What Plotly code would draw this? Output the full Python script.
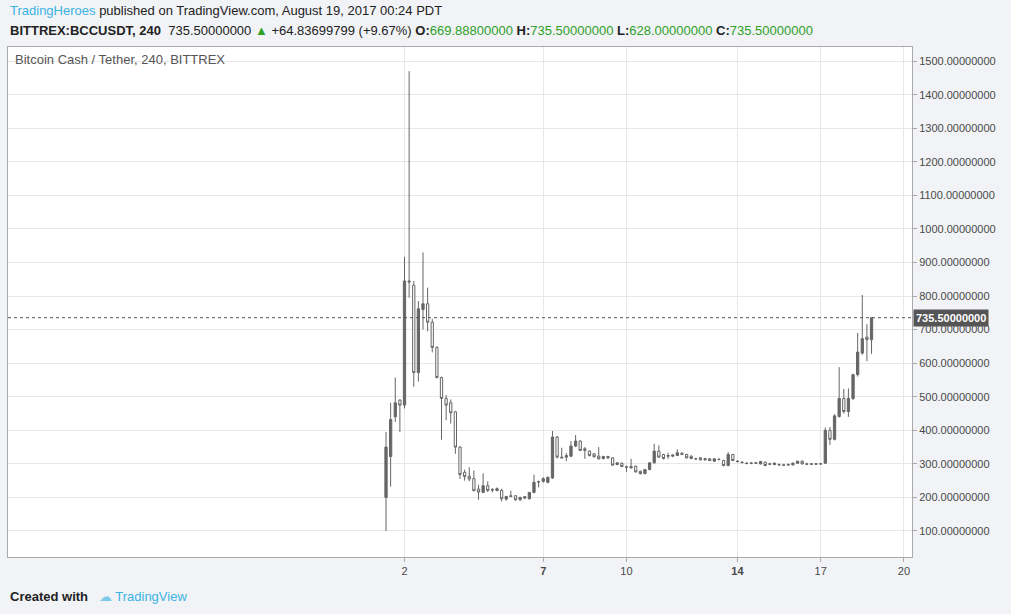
import pandas as pd
import plotly.graph_objects as go

# 4h candles, BITTREX BCCUSDT, Aug 1 08:00 .. Aug 18 20:00 2017
first_candle = '2017-08-01 08:00'

opens = [200, 322, 440, 490, 475, 845, 832, 572, 760, 777, 722, 647, 557, 495, 482, 455, 350, 275,
         263, 256, 225, 215, 235, 223, 221, 221, 195, 205, 205, 193, 198, 196, 215, 246, 248, 245,
         258, 380, 320, 325, 323, 353, 368, 345, 338, 330, 323, 316, 318, 318, 298, 302, 291, 292,
         293, 278, 271, 283, 303, 338, 328, 325, 323, 325, 332, 328, 323, 315, 318, 312, 315, 308,
         313, 310, 295, 328, 308, 305, 302, 302, 303, 300, 305, 300, 298, 298, 297, 298, 297, 302,
         308, 300, 300, 299, 300, 302, 400, 373, 441, 495, 456, 495, 566, 630, 678, 669.888]
highs = [395, 482, 557, 492, 917, 1470, 845, 785, 930, 825, 732, 650, 560, 505, 492, 458, 352, 283,
         290, 280, 238, 272, 248, 228, 230, 226, 203, 220, 207, 202, 204, 216, 268, 250, 260, 262,
         398, 383, 348, 332, 368, 386, 370, 350, 340, 332, 350, 324, 324, 320, 305, 304, 295, 315,
         295, 280, 285, 305, 360, 355, 330, 333, 328, 343, 334, 330, 325, 318, 320, 318, 317, 317,
         318, 312, 335, 330, 311, 308, 305, 305, 306, 309, 307, 303, 304, 301, 300, 301, 304, 309,
         310, 303, 302, 302, 303, 408, 410, 448, 588, 523, 525, 568, 690, 803, 716, 735.5]
lows = [100, 232, 425, 395, 465, 795, 530, 545, 700, 695, 632, 555, 372, 430, 420, 330, 255, 250,
        248, 218, 193, 213, 216, 215, 218, 188, 190, 203, 190, 190, 195, 194, 212, 230, 244, 242,
        255, 316, 316, 308, 320, 350, 338, 315, 322, 319, 313, 313, 315, 294, 296, 290, 276, 286,
        274, 268, 269, 281, 301, 318, 313, 315, 320, 323, 326, 316, 314, 312, 310, 310, 308, 306,
        310, 293, 293, 308, 304, 301, 299, 299, 300, 298, 293, 297, 296, 295, 294, 295, 295, 300,
        298, 297, 297, 297, 298, 300, 356, 370, 438, 450, 440, 490, 560, 625, 606, 628]
closes = [350, 432, 482, 475, 845, 842, 572, 762, 777, 722, 647, 557, 495, 475, 452, 350, 268, 262,
          255, 220, 216, 235, 221, 222, 226, 196, 203, 203, 193, 200, 202, 215, 245, 247, 256, 260,
          380, 320, 318, 320, 353, 368, 340, 340, 325, 321, 315, 322, 322, 296, 303, 292, 290, 288,
          276, 271, 283, 303, 338, 320, 316, 323, 326, 333, 328, 318, 316, 315, 312, 315, 310, 315,
          313, 295, 328, 310, 307, 304, 301, 302, 302, 307, 295, 299, 302, 297, 296, 297, 302, 308,
          300, 299, 299, 300, 300, 400, 373, 443, 495, 456, 495, 566, 633, 673, 670, 735.5]

last_price = 735.5
day_ticks = ['2017-08-02', '2017-08-07', '2017-08-10', '2017-08-14', '2017-08-17', '2017-08-20']
day_labels = ['2', '<b>7</b>', '10', '<b>14</b>', '17', '20']
price_ticks = list(range(100, 1600, 100))

times = pd.date_range(first_candle, periods=len(opens), freq='4h')

grey = '#666666'
fig = go.Figure(go.Candlestick(
    x=times, open=opens, high=highs, low=lows, close=closes,
    increasing=dict(line=dict(color=grey, width=1), fillcolor=grey),
    decreasing=dict(line=dict(color=grey, width=1), fillcolor='white'),
    whiskerwidth=0, showlegend=False, hoverinfo='skip'
))

fig.add_hline(y=last_price, line=dict(color='#555555', width=1, dash='dot'))

fig.update_layout(
    width=1011, height=614,
    margin=dict(l=8, r=99, t=47, b=57, autoexpand=False),
    paper_bgcolor='#f1f3f6', plot_bgcolor='white',
    font=dict(family='Liberation Sans', size=11, color='#4a4a4a'),
    xaxis=dict(range=['2017-07-18 17:00', '2017-08-20 07:00'], tickvals=day_ticks, ticktext=day_labels,
               showgrid=True, gridcolor='#e8e8e8', rangeslider=dict(visible=False),
               showline=True, linecolor='#aaaaaa', mirror=True, ticks='outside', ticklen=4,
               tickcolor='#aaaaaa', zeroline=False),
    yaxis=dict(range=[22.5, 1542], side='right', tickvals=price_ticks, tickformat='.8f',
               showgrid=True, gridcolor='#e8e8e8', showline=True, linecolor='#aaaaaa', mirror=True,
               ticks='outside', ticklen=4, tickcolor='#aaaaaa', zeroline=False),
)

green = '#2fa12a'
fig.add_annotation(xref='paper', yref='paper', x=0, y=1.0706, xanchor='left', yanchor='middle',
                   showarrow=False, font=dict(size=13, color='#222222'),
                   text="<span style='color:#3bb3e4'>TradingHeroes</span> published on TradingView.com, August 19, 2017 00:24 PDT")
fig.add_annotation(xref='paper', yref='paper', x=0, y=1.033, xanchor='left', yanchor='middle',
                   showarrow=False, font=dict(size=13, color='#222222'),
                   text=("<b>BITTREX:BCCUSDT, 240</b>  735.50000000 <span style='color:%s'>▲</span> +64.83699799 (+9.67%%) "
                         "<b>O:</b><span style='color:%s'>669.88800000</span> <b>H:</b><span style='color:%s'>735.50000000</span> "
                         "<b>L:</b><span style='color:%s'>628.00000000</span> <b>C:</b><span style='color:%s'>735.50000000</span>")
                   % (green, green, green, green, green))
fig.add_annotation(xref='paper', yref='paper', x=0.006, y=0.975, xanchor='left', yanchor='middle',
                   showarrow=False, font=dict(size=13, color='#555555'),
                   text='Bitcoin Cash / Tether, 240, BITTREX')
fig.add_annotation(xref='paper', yref='y', x=1.001, y=last_price, xanchor='left', yanchor='middle',
                   showarrow=False, bgcolor='#555555', font=dict(size=11, color='white'),
                   text='<b>735.50000000</b>', borderpad=2)
fig.add_annotation(xref='paper', yref='paper', x=0, y=-0.078, xanchor='left', yanchor='middle',
                   showarrow=False, font=dict(size=13, color='#222222'),
                   text="<b>Created with</b>   <span style='color:#7ec8ea'>☁</span> <span style='color:#3bb3e4'>TradingView</span>")

# drop the default 8px body margin so the figure fills the window
fig.write_html("out.html", config={'displayModeBar': False},
               post_script="document.body.style.margin='0';")
